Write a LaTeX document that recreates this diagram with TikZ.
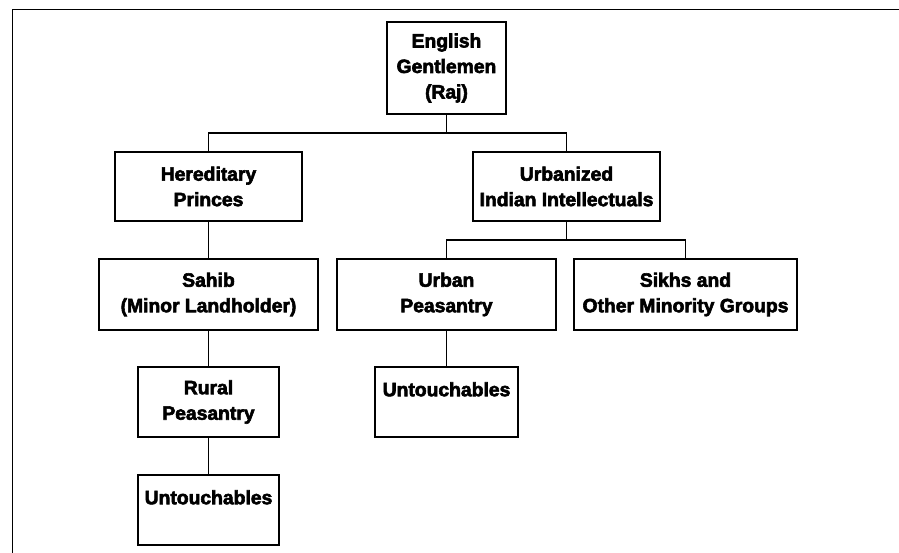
\documentclass[tikz,border=0pt]{standalone}
\usepackage{fontspec}
\newfontfamily\heavyfont[FakeBold=3]{Liberation Sans Bold}
\begin{document}
\begin{tikzpicture}[x=1pt,y=-1pt,
    rank/.style={draw, line width=1.6pt, inner sep=0pt, align=center,
      font=\heavyfont\fontsize{19.3}{25.5}\selectfont},
    link/.style={line width=1.1pt}]
  \useasboundingbox (0,0) rectangle (899,553);
  % partial outer frame (top and left edges)
  \draw[line width=1pt] (12,553) -- (12,10) -- (899,10);

  % ranks
  \node[rank, minimum width=119pt, minimum height=92pt] (eng)  at (446.5,68)  {English\\Gentlemen\\(Raj)};
  \node[rank, minimum width=187pt, minimum height=69pt] (her)  at (208.5,186.5) {Hereditary\\Princes};
  \node[rank, minimum width=187pt, minimum height=69pt] (urb)  at (566.5,186.5) {Urbanized\\Indian Intellectuals};
  \node[rank, minimum width=219pt, minimum height=71pt] (sah)  at (208.5,294.5) {Sahib\\(Minor Landholder)};
  \node[rank, minimum width=219pt, minimum height=71pt] (urp)  at (446.5,294.5) {Urban\\Peasantry};
  \node[rank, minimum width=223pt, minimum height=71pt] (sik)  at (685.5,294.5) {Sikhs and\\Other Minority Groups};
  \node[rank, minimum width=141pt, minimum height=70pt] (rur)  at (208.5,402)   {Rural\\Peasantry};
  \node[rank, minimum width=141pt, minimum height=70pt] (unl)  at (208.5,510)   {Untouchables\\\mbox{}};
  \node[rank, minimum width=143pt, minimum height=70pt] (unr)  at (446.5,402)   {Untouchables\\\mbox{}};

  % hierarchy links
  \draw[link] (eng.south) -- (eng.south |- 0,133) -| (her.north);
  \draw[link] (eng.south) -- (eng.south |- 0,133) -| (urb.north);
  \draw[link] (her.south) -- (sah.north);
  \draw[link] (urb.south) -- (urb.south |- 0,240) -| (urp.north);
  \draw[link] (urb.south) -- (urb.south |- 0,240) -| (sik.north);
  \draw[link] (sah.south) -- (rur.north);
  \draw[link] (rur.south) -- (unl.north);
  \draw[link] (urp.south) -- (unr.north);
\end{tikzpicture}
\end{document}
